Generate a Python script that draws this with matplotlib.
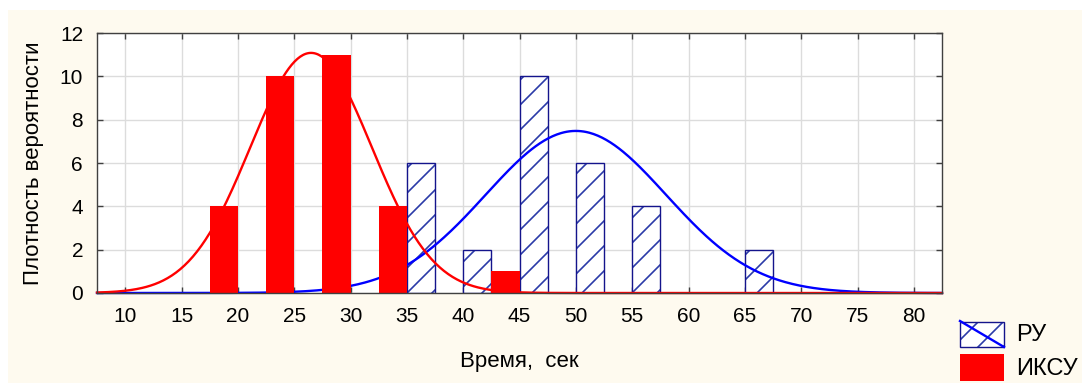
import numpy as np
import matplotlib.pyplot as plt
from matplotlib.patches import Rectangle
from matplotlib.lines import Line2D
from matplotlib.backend_bases import GraphicsContextBase

plt.rcParams['font.family'] = ['Liberation Sans', 'DejaVu Sans']
plt.rcParams['hatch.linewidth'] = 1.2

# штриховка чуть гуще, чем по умолчанию
_orig_hatch = GraphicsContextBase.get_hatch_path
GraphicsContextBase.get_hatch_path = lambda self, density=6.0: _orig_hatch(self, 8.0)

# Данные гистограмм (центры интервалов и частоты)
centers_iksu = [20, 25, 30, 35, 45]
counts_iksu = [4, 10, 11, 4, 1]
centers_ru = [35, 40, 45, 50, 55, 65]
counts_ru = [6, 2, 10, 6, 4, 2]
bin_width = 5

# Параметры подогнанных нормальных кривых
mean_iksu, sd_iksu, n_iksu = 26.5, 5.4, 30
mean_ru, sd_ru, n_ru = 50.0, 8.0, 30

xticks = list(range(10, 85, 5))
yticks = [0, 2, 4, 6, 8, 10, 12]

cream = '#FEFAEF'
navy = '#14148C'
hatch_col = (0.17, 0.23, 0.66, 1.0)

fig = plt.figure(figsize=(10.82, 3.83), dpi=100, facecolor='white')
fig.add_artist(Rectangle((8 / 1082, 0.5 / 383), 1 - 8 / 1082, 1 - 10.5 / 383,
                         transform=fig.transFigure, facecolor=cream,
                         edgecolor='none', zorder=-10))

ax = fig.add_axes([97 / 1082, 90 / 383, 845 / 1082, 260 / 383])
ax.set_facecolor('white')

def normal_curve(x, m, s, n):
    return n * bin_width / (s * np.sqrt(2 * np.pi)) * np.exp(-0.5 * ((x - m) / s) ** 2)

xs = np.linspace(7.5, 82.5, 600)

# РУ - заштрихованные столбцы справа от центра
bars_ru = ax.bar(centers_ru, counts_ru, width=bin_width / 2, align='edge',
                 facecolor='white', edgecolor=navy, hatch='/', linewidth=1.0, zorder=2)
for p in bars_ru:
    p._hatch_color = hatch_col

ax.plot(xs, normal_curve(xs, mean_ru, sd_ru, n_ru), color='#0000FF', lw=1.7, zorder=3, clip_on=False)
ax.plot(xs, normal_curve(xs, mean_iksu, sd_iksu, n_iksu), color='#FF0000', lw=1.7, zorder=3, clip_on=False)

# ИКСУ - красные столбцы слева от центра
ax.bar(centers_iksu, counts_iksu, width=-bin_width / 2, align='edge',
       facecolor='#FF0000', edgecolor='none', zorder=4)

ax.set_xlim(7.5, 82.5)
ax.set_ylim(0, 12)
ax.set_xticks(xticks)
ax.set_yticks(yticks)
ax.grid(True, color='#DCDCDC', lw=1.0, zorder=0)
ax.set_axisbelow(True)
ax.tick_params(direction='in', length=4, width=1, color='#404040',
               top=True, right=True, labelsize=15, pad=10)
ax.tick_params(axis='y', pad=10)
for s in ax.spines.values():
    s.set_color('#404040')
    s.set_linewidth(1.0)
    s.set_zorder(5)

ax.set_xlabel('Время,  сек', fontsize=16, labelpad=18)
ax.set_ylabel('Плотность вероятности', fontsize=16, labelpad=11)

# Легенда
lax = fig.add_axes([0, 0, 1, 1], facecolor='none')
lax.set_xlim(0, 1082)
lax.set_ylim(383, 0)
lax.axis('off')
leg_ru = Rectangle((960, 322), 44, 25, facecolor='white', edgecolor=navy,
                   hatch='/', lw=1.0)
lax.add_patch(leg_ru)
leg_ru._hatch_color = hatch_col
lax.add_line(Line2D([960, 1004], [321, 347], color='#0000FF', lw=1.7))
lax.add_patch(Rectangle((960, 354), 44, 27, facecolor='#FF0000', edgecolor='none'))
lax.text(1016, 335, 'РУ', fontsize=17, va='center', ha='left')
lax.text(1016, 369, 'ИКСУ', fontsize=17, va='center', ha='left')

plt.savefig('out.png', dpi=100, facecolor=fig.get_facecolor())
